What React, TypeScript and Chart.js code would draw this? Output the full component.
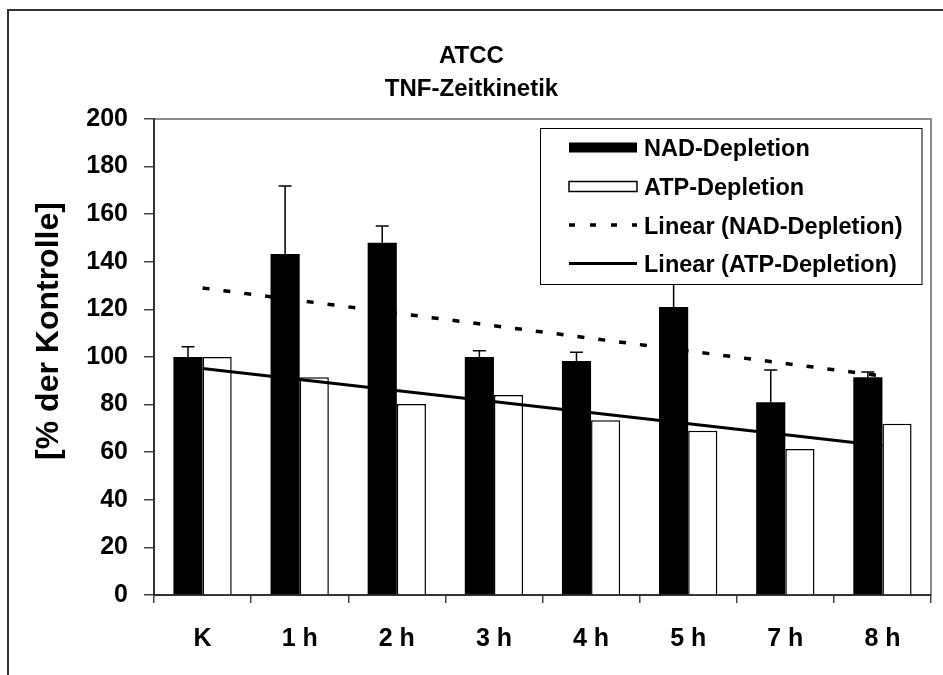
import React, { useEffect, useRef } from 'react';
import { Chart, registerables } from 'chart.js';

Chart.register(...registerables);

const categories = ['K', '1 h', '2 h', '3 h', '4 h', '5 h', '7 h', '8 h'];
const nadDepletion = [100, 143.3, 148, 100, 98.3, 121, 81, 91.5];
const nadErrorPlus = [4.3, 28.5, 7, 2.6, 3.7, 19, 13.5, 2.2];
const atpDepletion = [100, 91.5, 80.3, 84, 73.4, 69, 61.3, 72];
// trend line end points (first and last category)
const nadTrend = [129, null, null, null, null, null, null, 92];
const atpTrend = [95.2, null, null, null, null, null, null, 62.7];
const titleLines = ['ATCC', 'TNF-Zeitkinetik'];
const yAxisTitle = '[% der Kontrolle]';
const legendLabels = ['NAD-Depletion', 'ATP-Depletion', 'Linear (NAD-Depletion)', 'Linear (ATP-Depletion)'];
const yMin = 0;
const yMax = 200;
const yStep = 20;

const FONT = '"Liberation Sans", Arial, sans-serif';
const DASH = [7, 14];

const decorPlugin = {
  id: 'decor',
  beforeDraw(chart: any) {
    const ctx = chart.ctx;
    const { width, height } = chart;
    ctx.save();
    ctx.fillStyle = '#fff';
    ctx.fillRect(0, 0, width, height);
    // outer frame (left + top visible)
    ctx.strokeStyle = '#333';
    ctx.lineWidth = 2;
    ctx.beginPath();
    ctx.moveTo(8, height + 5);
    ctx.lineTo(8, 10);
    ctx.lineTo(width + 5, 10);
    ctx.stroke();
    // plot area top & right border
    const a = chart.chartArea;
    ctx.strokeStyle = '#8a8a8a';
    ctx.lineWidth = 2;
    ctx.beginPath();
    ctx.moveTo(a.left, a.top);
    ctx.lineTo(a.right, a.top);
    ctx.lineTo(a.right, a.bottom);
    ctx.stroke();
    ctx.restore();
  },
  afterDatasetsDraw(chart: any) {
    const ctx = chart.ctx;
    const meta = chart.getDatasetMeta(2);
    const yScale = chart.scales.y;
    ctx.save();
    ctx.strokeStyle = '#000';
    ctx.lineWidth = 1.5;
    meta.data.forEach((el: any, i: number) => {
      const top = yScale.getPixelForValue(nadDepletion[i] + nadErrorPlus[i]);
      ctx.beginPath();
      ctx.moveTo(el.x, el.y);
      ctx.lineTo(el.x, top);
      ctx.moveTo(el.x - 6.5, top);
      ctx.lineTo(el.x + 6.5, top);
      ctx.stroke();
    });
    ctx.restore();
  },
  afterDraw(chart: any) {
    const ctx = chart.ctx;
    ctx.save();
    // title
    ctx.fillStyle = '#000';
    ctx.textAlign = 'center';
    ctx.textBaseline = 'alphabetic';
    ctx.font = `bold 24px ${FONT}`;
    ctx.fillText(titleLines[0], 471.5, 63);
    ctx.fillText(titleLines[1], 471.5, 96);
    // y axis title
    ctx.save();
    ctx.translate(49, 331);
    ctx.rotate(-Math.PI / 2);
    ctx.textBaseline = 'middle';
    ctx.font = `bold 32px ${FONT}`;
    ctx.fillText(yAxisTitle, 0, 0);
    ctx.restore();
    // legend
    const bx = 540.5, by = 128.5, bw = 381.5, bh = 156;
    ctx.fillStyle = '#fff';
    ctx.fillRect(bx, by, bw, bh);
    ctx.strokeStyle = '#000';
    ctx.lineWidth = 1;
    ctx.strokeRect(bx, by, bw, bh);
    const baselines = [156, 195, 233.5, 272];
    const sx0 = 569, sx1 = 637, tx = 644;
    ctx.font = `bold 23.5px ${FONT}`;
    ctx.textAlign = 'left';
    ctx.textBaseline = 'alphabetic';
    baselines.forEach((b, i) => {
      const cy = b - 8.5;
      if (i === 0) {
        ctx.fillStyle = '#000';
        ctx.fillRect(sx0, cy - 5, sx1 - sx0, 10);
      } else if (i === 1) {
        ctx.fillStyle = '#fff';
        ctx.fillRect(sx0, cy - 5, sx1 - sx0, 10);
        ctx.strokeStyle = '#000';
        ctx.lineWidth = 1.5;
        ctx.strokeRect(sx0, cy - 5, sx1 - sx0, 10);
      } else {
        ctx.strokeStyle = '#000';
        ctx.lineWidth = i === 2 ? 3.5 : 3;
        ctx.setLineDash(i === 2 ? [6, 15] : []);
        ctx.beginPath();
        ctx.moveTo(sx0, cy);
        ctx.lineTo(sx1, cy);
        ctx.stroke();
        ctx.setLineDash([]);
      }
      ctx.fillStyle = '#000';
      ctx.fillText(legendLabels[i], tx, b);
    });
    ctx.restore();
  },
};

export default function App() {
  const ref = useRef<HTMLCanvasElement | null>(null);
  useEffect(() => {
    if (!ref.current) return;
    const chart = new Chart(ref.current, {
      type: 'bar',
      data: {
        labels: categories,
        datasets: [
          {
            type: 'line',
            label: legendLabels[2],
            data: nadTrend,
            borderColor: '#000',
            borderWidth: 3.5,
            borderDash: DASH,
            pointRadius: 0,
            spanGaps: true,
            fill: false,
            order: 0,
          } as any,
          {
            type: 'line',
            label: legendLabels[3],
            data: atpTrend,
            borderColor: '#000',
            borderWidth: 3,
            pointRadius: 0,
            spanGaps: true,
            fill: false,
            order: 0,
          } as any,
          {
            label: legendLabels[0],
            data: nadDepletion,
            backgroundColor: '#000',
            borderWidth: 0,
            categoryPercentage: 0.6,
            barPercentage: 1,
            order: 1,
          },
          {
            label: legendLabels[1],
            data: atpDepletion,
            backgroundColor: '#fff',
            borderColor: '#000',
            borderWidth: 1.5,
            categoryPercentage: 0.6,
            barPercentage: 1,
            order: 1,
          },
        ],
      },
      options: {
        animation: false,
        responsive: false,
        devicePixelRatio: 1,
        layout: { padding: { top: 119, right: 12, left: 0, bottom: 0 } },
        plugins: { legend: { display: false }, title: { display: false }, tooltip: { enabled: false } },
        scales: {
          x: {
            offset: true,
            grid: { display: true, drawOnChartArea: false, offset: true, tickLength: 8, color: '#444', lineWidth: 1.5 },
            border: { display: true, color: '#333', width: 2 },
            ticks: { color: '#000', padding: 21, maxRotation: 0, font: { family: FONT, size: 25, weight: 'bold' } },
            afterFit(scale: any) { scale.height = 80; },
          },
          y: {
            min: yMin,
            max: yMax,
            grid: { display: true, drawOnChartArea: false, tickLength: 10, color: '#444', lineWidth: 1.5 },
            border: { display: true, color: '#333', width: 2 },
            ticks: { stepSize: yStep, color: '#000', padding: 16, font: { family: FONT, size: 25, weight: 'bold' } },
            afterFit(scale: any) { scale.width = 154; },
          },
        },
      },
      plugins: [decorPlugin],
    } as any);
    return () => chart.destroy();
  }, []);
  return (
    <div style={{ position: 'absolute', left: 0, top: 0, width: 943, height: 675 }}>
      <canvas ref={ref} width={943} height={675} style={{ display: 'block', width: 943, height: 675 }} />
    </div>
  );
}
